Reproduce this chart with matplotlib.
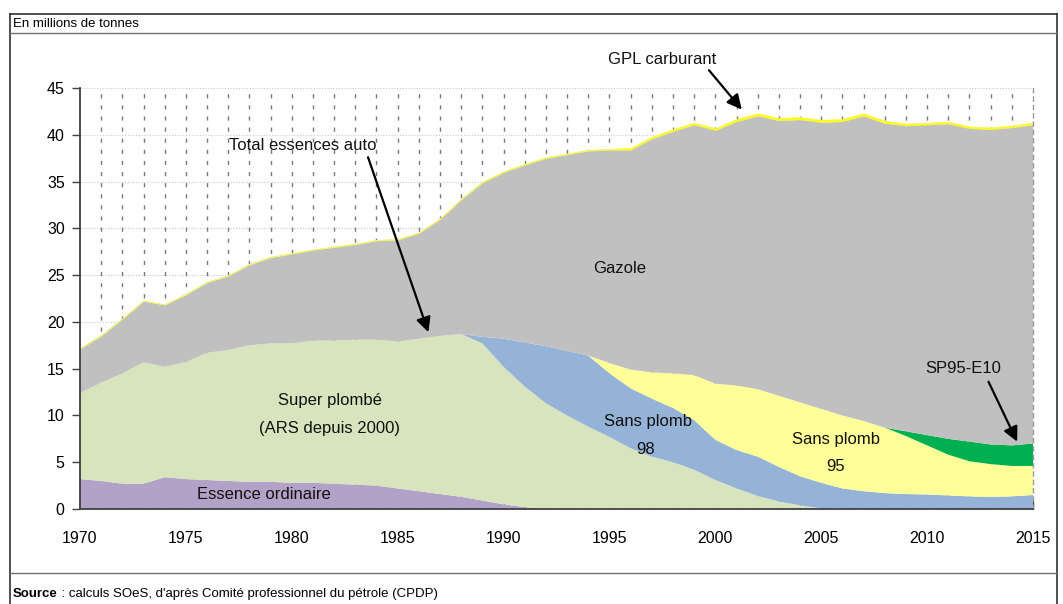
import matplotlib
matplotlib.use('Agg')
import matplotlib.pyplot as plt
from matplotlib.lines import Line2D
from matplotlib.ticker import MultipleLocator

plt.rcParams['font.family'] = ['Liberation Sans', 'DejaVu Sans']

# Consommation de carburants routiers, en millions de tonnes
YEARS = list(range(1970, 2016))
ESSENCE_ORDINAIRE = [3.2, 3.0, 2.7, 2.7, 3.4, 3.2, 3.1, 3.0, 2.9, 2.9,
                     2.8, 2.8, 2.7, 2.6, 2.5, 2.2, 1.9, 1.6, 1.3, 0.9,
                     0.5, 0.2] + [0] * 24
SUPER_PLOMBE = [9.2, 10.5, 11.8, 13.0, 11.8, 12.5, 13.6, 14.0, 14.6, 14.8,
                14.9, 15.2, 15.3, 15.5, 15.6, 15.7, 16.3, 16.9, 17.4, 16.8,
                14.7, 12.9, 11.3, 10.0, 8.8, 7.7, 6.5, 5.6, 5.0, 4.2,
                3.1, 2.2, 1.4, 0.8, 0.4, 0.05] + [0] * 10
SANS_PLOMB_98 = [0] * 19 + [0.7, 3.0, 4.7, 6.1, 6.9, 7.6, 6.8, 6.4, 6.2, 5.8, 5.3,
                            4.3, 4.1, 4.2, 3.7, 3.1, 2.75, 2.2, 1.9, 1.7, 1.6,
                            1.55, 1.45, 1.35, 1.3, 1.35, 1.5]
SANS_PLOMB_95 = [0] * 24 + [0.0, 1.1, 2.0, 2.8, 3.7, 4.8, 6.0, 6.9, 7.2, 7.6,
                            7.9, 7.9, 7.8, 7.5, 7.0, 6.2, 5.25, 4.35, 3.75, 3.5,
                            3.25, 3.1]
SP95_E10 = [0] * 39 + [0.5, 1.1, 1.7, 2.1, 2.1, 2.2, 2.4]
GAZOLE = [4.75, 5.05, 5.85, 6.55, 6.65, 7.25, 7.55, 7.95, 8.65, 9.2,
          9.6, 9.7, 10.0, 10.2, 10.6, 10.9, 11.3, 12.5, 14.4, 16.5,
          17.8, 19.0, 20.1, 21.0, 21.9, 22.8, 23.5, 25.0, 25.9, 26.8,
          27.1, 28.25, 29.25, 29.45, 30.25, 30.65, 31.45, 32.65, 32.55, 32.7,
          33.2, 33.7, 33.5, 33.7, 34.0, 34.1]
GPL = [0.02] * 9 + [0.06] * 10 + [0.1] * 7 + [0.2] * 5 + [0.25] * 8 + [0.2] * 7

COLORS = ['#b3a2c7', '#d7e4bd', '#95b3d7', '#ffff99', '#00b050', '#c0c0c0', '#ffff00']

W, H = 1063, 604


def fx(px):
    return px / W


def fy(py):
    return 1 - py / H


fig = plt.figure(figsize=(W / 100, H / 100), dpi=100)
ax = fig.add_axes([fx(80), fy(509), fx(1033) - fx(80), fy(88) - fy(509)])

# grille : pointillés horizontaux clairs, tirets verticaux pour chaque année
for v in range(5, 50, 5):
    ax.axhline(v, color='#c8c8c8', lw=0.8, ls=(0, (1, 1.5)), zorder=0)
for yr in YEARS[1:-1]:
    ax.axvline(yr, color='#7a7a7a', lw=1.0, ls=(0, (3, 5)), zorder=0)

polys = ax.stackplot(YEARS, ESSENCE_ORDINAIRE, SUPER_PLOMBE, SANS_PLOMB_98,
                     SANS_PLOMB_95, SP95_E10, GAZOLE, GPL,
                     colors=COLORS, linewidth=0, zorder=2)
polys[-1].set_edgecolor('#f4f46a')
polys[-1].set_linewidth(0.5)

ax.set_xlim(1970, 2015)
ax.set_ylim(0, 45)
ax.xaxis.set_major_locator(MultipleLocator(5))
ax.xaxis.set_minor_locator(MultipleLocator(1))
ax.yaxis.set_major_locator(MultipleLocator(5))
ax.tick_params(axis='x', which='both', direction='in', length=6, width=1,
               color='#404040', labelsize=11.5, pad=16, top=False)
ax.tick_params(axis='y', which='major', direction='out', length=6, width=1,
               color='#404040', labelsize=11.5, pad=5)
ax.spines['top'].set_visible(False)
ax.spines['right'].set_linestyle((0, (3, 3)))
ax.spines['right'].set_color('#9a9a9a')
ax.spines['right'].set_linewidth(1)
ax.spines['right'].set_zorder(3)
for s in ['left', 'bottom']:
    ax.spines[s].set_color('#404040')
    ax.spines[s].set_linewidth(1.3)
    ax.spines[s].set_zorder(3)

# libellés des séries
lab = dict(fontsize=12, ha='center', va='center', color='#111111', zorder=5)
ax.text(1995.5, 25.7, 'Gazole', **lab)
ax.text(1981.8, 11.6, 'Super plombé', **lab)
ax.text(1981.8, 8.65, '(ARS depuis 2000)', **lab)
ax.text(1978.7, 1.6, 'Essence ordinaire', **lab)
ax.text(1996.8, 9.3, 'Sans plomb', **lab)
ax.text(1996.7, 6.4, '98', **lab)
ax.text(2005.7, 7.4, 'Sans plomb', **lab)
ax.text(2005.7, 4.5, '95', **lab)

arrow = dict(arrowstyle='-|>', color='black', lw=1.6, mutation_scale=22,
             shrinkA=0, shrinkB=0)
ax.text(1997.5, 48.0, 'GPL carburant', clip_on=False, **lab)
ax.annotate('', xy=(2001.25, 42.7), xytext=(1999.7, 46.9), arrowprops=arrow,
            annotation_clip=False, zorder=5)
ax.text(1980.5, 38.9, 'Total essences auto', **lab)
ax.annotate('', xy=(1986.45, 18.9), xytext=(1983.6, 37.6), arrowprops=arrow, zorder=5)
ax.text(2011.7, 15.0, 'SP95-E10', **lab)
ax.annotate('', xy=(2014.25, 7.2), xytext=(2012.9, 13.6), arrowprops=arrow, zorder=5)

# cadre, en-tête et source
frame = dict(color='#303030', lw=1.2)
fig.add_artist(Line2D([fx(10), fx(1057)], [fy(14), fy(14)], **frame))
fig.add_artist(Line2D([fx(10), fx(10)], [fy(14), fy(604)], **frame))
fig.add_artist(Line2D([fx(1057), fx(1057)], [fy(14), fy(604)], **frame))
fig.add_artist(Line2D([fx(10), fx(1057)], [fy(33), fy(33)], color='#707070', lw=1))
fig.add_artist(Line2D([fx(10), fx(1057)], [fy(573), fy(573)], color='#707070', lw=1))

fig.text(fx(13), fy(24), 'En millions de tonnes', fontsize=9.5, va='center')
src = fig.text(fx(13), fy(597), 'Source', fontsize=9.5, fontweight='bold', va='baseline')
ax.annotate(" : calculs SOeS, d'après Comité professionnel du pétrole (CPDP)",
            xy=(1, 0), xycoords=src, fontsize=9.5, va='bottom', ha='left',
            annotation_clip=False)

fig.savefig('out.png', dpi=100)
